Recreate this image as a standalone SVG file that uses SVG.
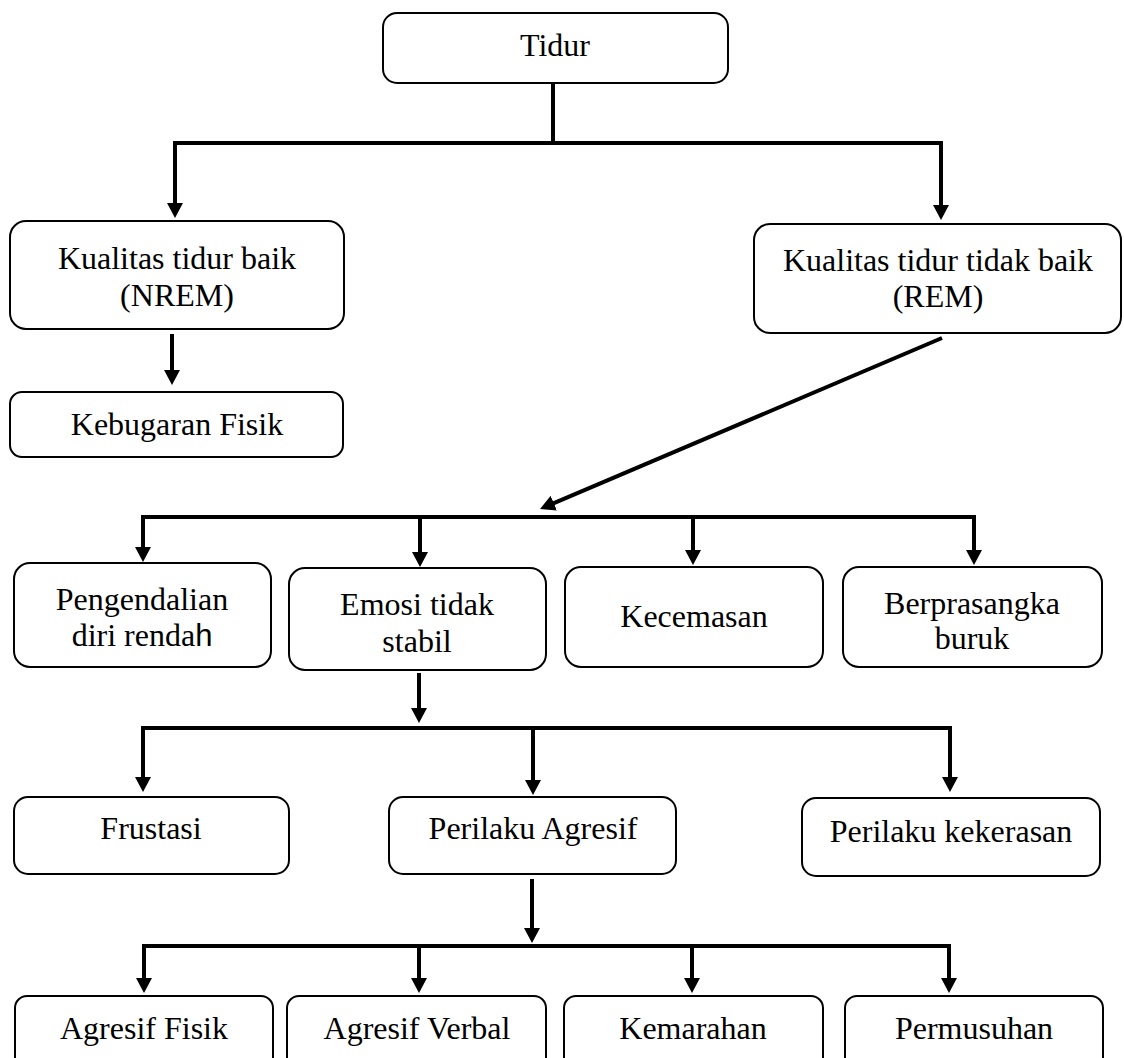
<svg xmlns="http://www.w3.org/2000/svg" width="1124" height="1058" viewBox="0 0 1124 1058">
<style>
.box{fill:#fff;stroke:#000;stroke-width:2}
.t{font-family:"Liberation Serif","Times New Roman",serif;font-size:32px;fill:#000;text-anchor:middle}
.c{fill:none;stroke:#000;stroke-width:4}
.sans{font-family:"Liberation Sans",Arial,sans-serif;font-size:31px}
</style>
<defs>
<marker id="ah" markerUnits="userSpaceOnUse" markerWidth="15" markerHeight="16" viewBox="0 0 15 16" refX="5" refY="8" orient="auto">
<path d="M0,0 L15,8 L0,16 z" fill="#000"/>
</marker>
</defs>
<rect width="1124" height="1058" fill="#fff"/>
<g id="connectors">
<path class="c" d="M553,83 V143"/>
<path class="c" d="M173,143 H943"/>
<path class="c" d="M175,141 V208" marker-end="url(#ah)"/>
<path class="c" d="M941,141 V210" marker-end="url(#ah)"/>
<path class="c" d="M172,334 V375" marker-end="url(#ah)"/>
<path class="c" d="M942,338 L549.2,505.1" marker-end="url(#ah)"/>
<path class="c" d="M141,517 H976"/>
<path class="c" d="M143,515 V552" marker-end="url(#ah)"/>
<path class="c" d="M420,517 V557" marker-end="url(#ah)"/>
<path class="c" d="M693,517 V555" marker-end="url(#ah)"/>
<path class="c" d="M974,515 V555" marker-end="url(#ah)"/>
<path class="c" d="M419,673 V713" marker-end="url(#ah)"/>
<path class="c" d="M141,728 H952"/>
<path class="c" d="M143,726 V782" marker-end="url(#ah)"/>
<path class="c" d="M533,728 V785" marker-end="url(#ah)"/>
<path class="c" d="M950,726 V782" marker-end="url(#ah)"/>
<path class="c" d="M532,879 V933" marker-end="url(#ah)"/>
<path class="c" d="M142,946 H951"/>
<path class="c" d="M144,944 V983" marker-end="url(#ah)"/>
<path class="c" d="M419,946 V983" marker-end="url(#ah)"/>
<path class="c" d="M692,946 V983" marker-end="url(#ah)"/>
<path class="c" d="M949,944 V983" marker-end="url(#ah)"/>
</g>
<g id="tidur"><rect class="box" x="383" y="13" width="345" height="70" rx="14"/><text class="t" x="555" y="56">Tidur</text></g>
<g id="nrem"><rect class="box" x="10" y="221" width="334" height="108" rx="16"/><text class="t" x="177" y="269">Kualitas tidur baik</text><text class="t" x="177" y="306">(NREM)</text></g>
<g id="rem"><rect class="box" x="754" y="224" width="367" height="109" rx="16"/><text class="t" x="938" y="271">Kualitas tidur tidak baik</text><text class="t" x="938" y="307">(REM)</text></g>
<g id="kebugaran"><rect class="box" x="10" y="392" width="333" height="65" rx="12"/><text class="t" x="177" y="435">Kebugaran Fisik</text></g>
<g id="pengendalian"><rect class="box" x="14" y="563" width="257" height="104" rx="16"/><text class="t" x="142" y="610">Pengendalian</text><text class="t" x="142" y="646">diri renda<tspan class="sans">h</tspan></text></g>
<g id="emosi"><rect class="box" x="289" y="568" width="257" height="102" rx="16"/><text class="t" x="417" y="615">Emosi tidak</text><text class="t" x="417" y="652">stabil</text></g>
<g id="kecemasan"><rect class="box" x="565" y="567" width="258" height="100" rx="16"/><text class="t" x="694" y="627">Kecemasan</text></g>
<g id="berprasangka"><rect class="box" x="843" y="567" width="259" height="100" rx="16"/><text class="t" x="972" y="614">Berprasangka</text><text class="t" x="972" y="649">buruk</text></g>
<g id="frustasi"><rect class="box" x="14" y="797" width="275" height="77" rx="14"/><text class="t" x="151" y="839">Frustasi</text></g>
<g id="agresif"><rect class="box" x="389" y="797" width="287" height="77" rx="14"/><text class="t" x="533" y="839">Perilaku Agresif</text></g>
<g id="kekerasan"><rect class="box" x="802" y="798" width="298" height="78" rx="14"/><text class="t" x="951" y="842">Perilaku kekerasan</text></g>
<g id="fisik"><rect class="box" x="15" y="996" width="258" height="80" rx="12"/><text class="t" x="144" y="1039">Agresif Fisik</text></g>
<g id="verbal"><rect class="box" x="287" y="996" width="259" height="80" rx="12"/><text class="t" x="417" y="1039">Agresif Verbal</text></g>
<g id="kemarahan"><rect class="box" x="564" y="996" width="259" height="80" rx="12"/><text class="t" x="693" y="1039">Kemarahan</text></g>
<g id="permusuhan"><rect class="box" x="845" y="996" width="258" height="80" rx="12"/><text class="t" x="974" y="1039">Permusuhan</text></g>
</svg>
